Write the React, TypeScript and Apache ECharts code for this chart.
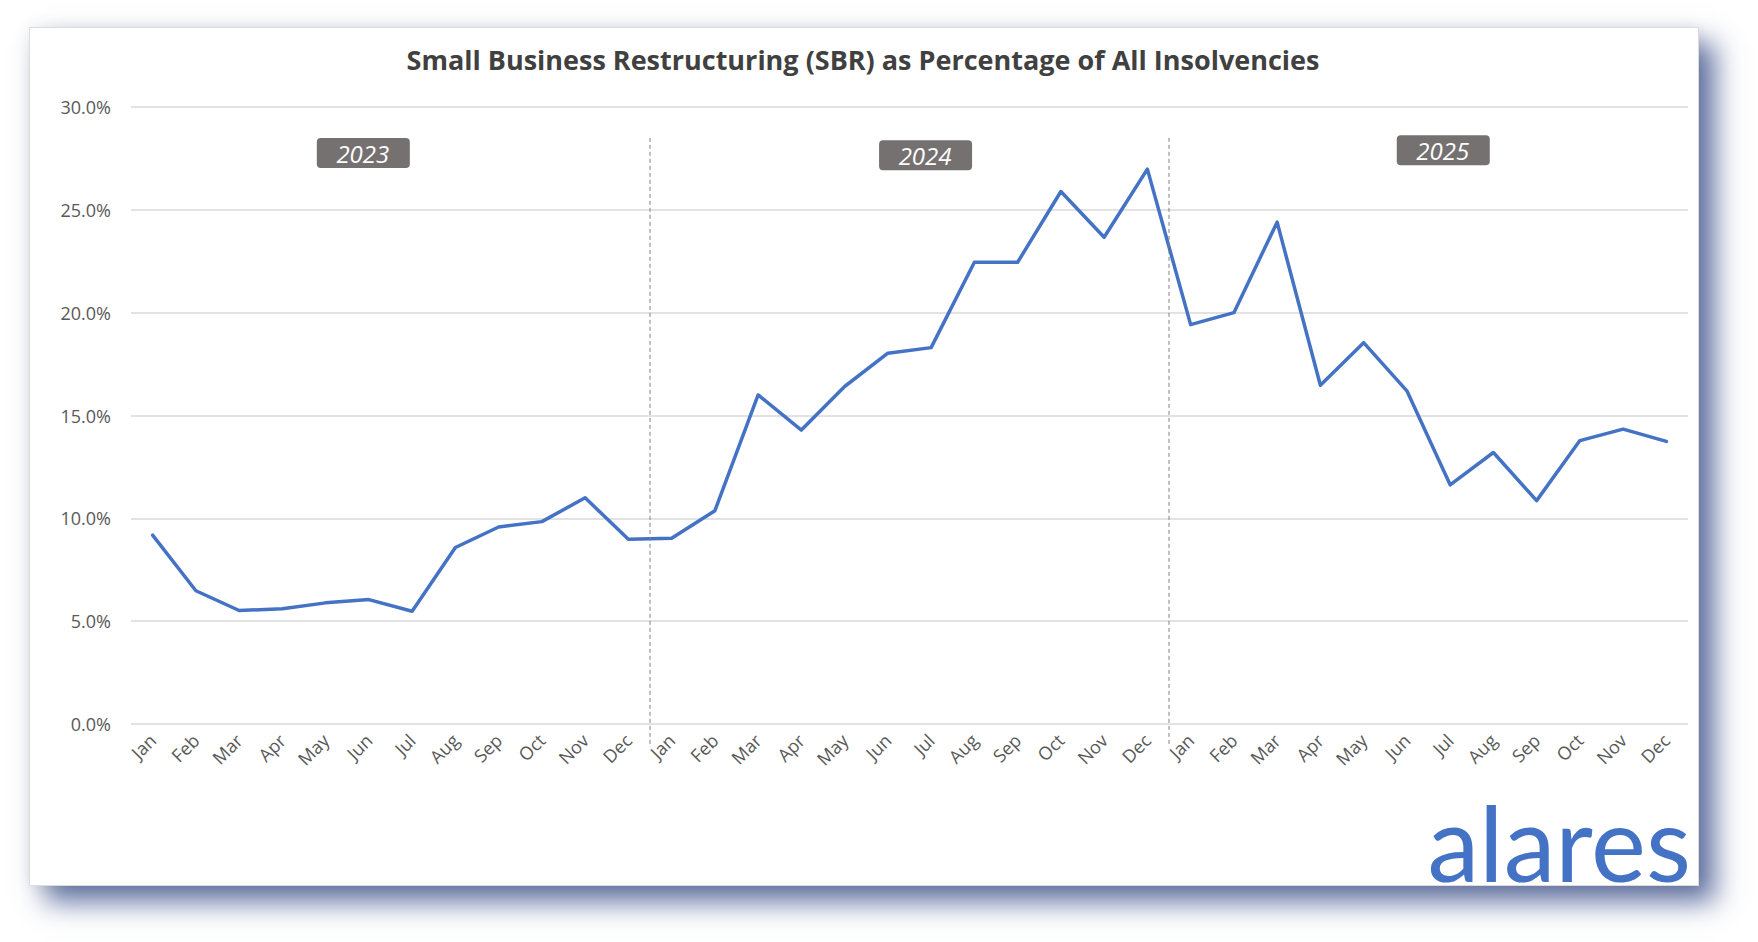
import { useEffect, useRef } from "react";
import * as echarts from "echarts";

const MONTHS = ["Jan", "Feb", "Mar", "Apr", "May", "Jun", "Jul", "Aug", "Sep", "Oct", "Nov", "Dec"];
const YEARS = ["2023", "2024", "2025"];

// SBR share of all insolvencies, % by month
const sbr2023 = [9.18, 6.48, 5.52, 5.6, 5.89, 6.05, 5.48, 8.58, 9.58, 9.84, 11.0, 8.98];
const sbr2024 = [9.03, 10.37, 16.0, 14.29, 16.41, 18.03, 18.3, 22.45, 22.45, 25.89, 23.67, 26.98];
const sbr2025 = [19.42, 20.0, 24.4, 16.47, 18.54, 16.2, 11.63, 13.2, 10.86, 13.78, 14.34, 13.74];

const Y_TICKS = [0, 5, 10, 15, 20, 25, 30];

const TITLE = "Small Business Restructuring (SBR) as Percentage of All Insolvencies";
const BLUE = "#4472c4";
const FONT = "'Open Sans', sans-serif";

// where the year tags sit (category index, value %)
const badgeAnchors = [
  [4.86, 27.76],
  [17.86, 27.66],
  [29.83, 27.9],
];

// card that frames the chart
const CARD = { left: 29, top: 27, width: 1670, height: 859 };

export default function App() {
  const chartRef = useRef<HTMLDivElement | null>(null);

  useEffect(() => {
    document.body.style.margin = "0";
    if (!chartRef.current) return;
    const chart = echarts.init(chartRef.current, undefined, { renderer: "svg" });

    const categories = YEARS.flatMap(() => MONTHS);
    const values = [...sbr2023, ...sbr2024, ...sbr2025];

    chart.setOption({
      animation: false,
      backgroundColor: "transparent",
      title: {
        text: TITLE,
        left: 858,
        textAlign: "center",
        top: 41,
        textStyle: { fontFamily: FONT, fontSize: 27, fontWeight: "bold", color: "#404040" },
      },
      grid: { left: 131, right: 70, top: 107, bottom: 218 },
      xAxis: {
        type: "category",
        data: categories,
        boundaryGap: true,
        axisLine: { show: false },
        axisTick: { show: false },
        axisLabel: {
          rotate: 45,
          interval: 0,
          margin: 13,
          fontFamily: FONT,
          fontSize: 18,
          color: "#595959",
        },
      },
      yAxis: {
        type: "value",
        min: Y_TICKS[0],
        max: Y_TICKS[Y_TICKS.length - 1],
        interval: 5,
        axisLine: { show: false },
        axisTick: { show: false },
        splitLine: { lineStyle: { color: "#d9d9d9", width: 1.5 } },
        axisLabel: {
          margin: 20,
          fontFamily: FONT,
          fontSize: 18,
          color: "#595959",
          formatter: (v: number) => v.toFixed(1) + "%",
        },
      },
      series: [
        {
          type: "line",
          data: values,
          symbol: "none",
          lineStyle: { color: BLUE, width: 3.5, cap: "round", join: "round" },
        },
      ],
    });

    const xAt = (i: number) => {
      const p0 = chart.convertToPixel({ xAxisIndex: 0 }, 0) as number;
      const p1 = chart.convertToPixel({ xAxisIndex: 0 }, 1) as number;
      return p0 + i * (p1 - p0);
    };
    const yAt = (v: number) => chart.convertToPixel({ yAxisIndex: 0 }, v) as number;

    const dividers = [11.5, 23.5].map((i) => ({
      type: "line",
      shape: { x1: xAt(i), y1: yAt(28.5), x2: xAt(i), y2: yAt(0) + 20 },
      style: { stroke: "#808080", lineWidth: 1, lineDash: [4, 3] },
      z: 5,
    }));

    const badges = YEARS.map((year, k) => {
      const cx = xAt(badgeAnchors[k][0]);
      const cy = yAt(badgeAnchors[k][1]);
      return {
        type: "group",
        x: cx,
        y: cy,
        z: 10,
        children: [
          {
            type: "rect",
            shape: { x: -46, y: -15, width: 93, height: 30, r: 4 },
            style: { fill: "#767171" },
          },
          {
            type: "text",
            x: 0,
            y: 0,
            style: {
              text: year,
              fill: "#ffffff",
              font: `italic 24px ${FONT}`,
              align: "center",
              verticalAlign: "middle",
            },
          },
        ],
      };
    });

    chart.setOption({
      graphic: [
        ...dividers,
        ...badges,
        {
          type: "text",
          x: 1691,
          y: 841,
          z: 10,
          style: {
            text: "alares",
            fill: BLUE,
            font: "400 104px Lato, sans-serif",
            align: "right",
            verticalAlign: "middle",
          },
        },
      ],
    });

    const resize = () => chart.resize();
    window.addEventListener("resize", resize);
    return () => {
      window.removeEventListener("resize", resize);
      chart.dispose();
    };
  }, []);

  return (
    <div style={{ position: "relative", width: 1758, height: 942, background: "#ffffff", overflow: "hidden" }}>
      <div
        style={{
          position: "absolute",
          left: CARD.left,
          top: CARD.top,
          width: CARD.width,
          height: CARD.height,
          background: "#ffffff",
          border: "1px solid #dcdcdc",
          boxSizing: "border-box",
          boxShadow: "0 0 16px rgba(0,0,0,0.07), 16px 16px 26px rgba(60,80,140,0.8)",
        }}
      />
      <div ref={chartRef} style={{ position: "absolute", left: 0, top: 0, width: 1758, height: 942 }} />
    </div>
  );
}
